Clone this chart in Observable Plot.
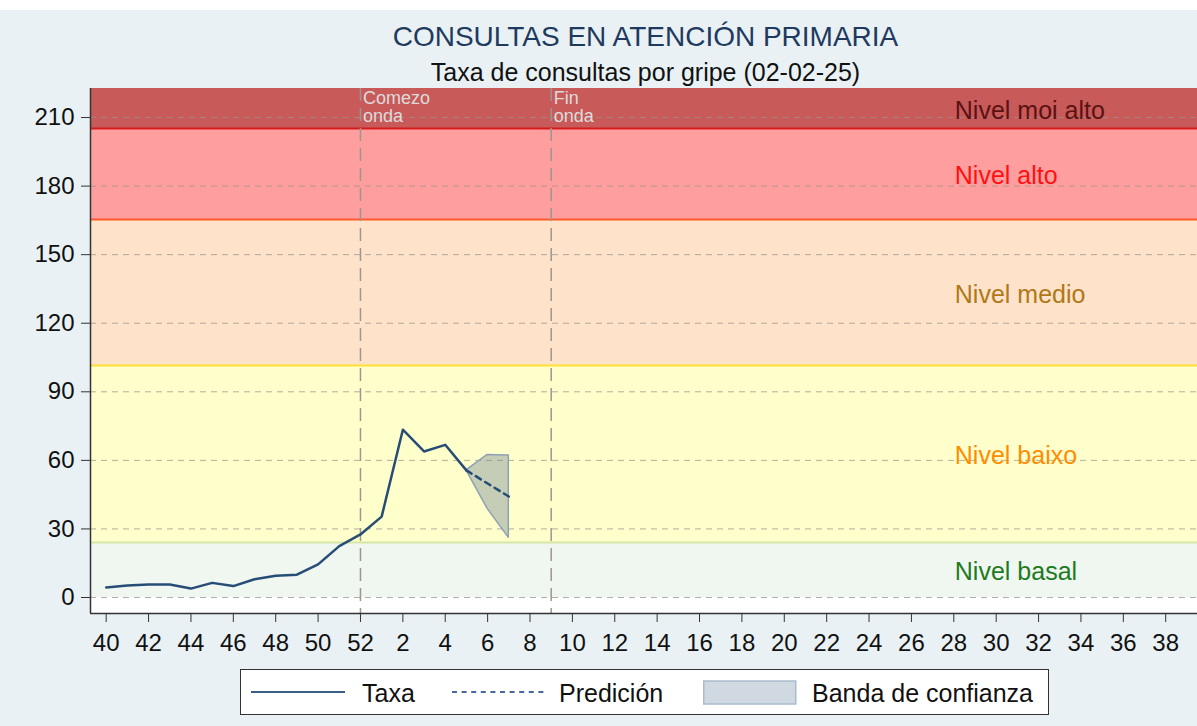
<!DOCTYPE html>
<html><head><meta charset="utf-8">
<script src="https://cdn.jsdelivr.net/npm/d3@7"></script>
<script src="https://cdn.jsdelivr.net/npm/@observablehq/plot@0.6"></script>
<style>
body{margin:0;background:#fff;font-family:"Liberation Sans",Arial,sans-serif;}
#wrap{position:relative;width:1197px;height:726px;background:#fff;overflow:hidden}
#bg{position:absolute;left:0;top:10px;width:1197px;height:716px;background:#e9f1f4}
#title{position:absolute;left:92px;width:1107px;top:21px;text-align:center;font-size:28px;color:#1e3a5f;line-height:32px;white-space:nowrap}
#subtitle{position:absolute;left:92px;width:1107px;top:58px;text-align:center;font-size:25px;color:#111;line-height:28px;white-space:nowrap}
#chart{position:absolute;left:0;top:80px}
#legend{position:absolute;left:240px;top:669px;width:807px;height:44px;background:#fff;border:1.5px solid #333;font-size:25px;color:#111}
#legend .it{position:absolute;top:0;height:44px;line-height:46px;white-space:nowrap}
#legend svg{position:absolute;top:0}
</style></head>
<body>
<div id="wrap">
  <div id="bg"></div>
  <div id="title">CONSULTAS EN ATENCIÓN PRIMARIA</div>
  <div id="subtitle">Taxa de consultas por gripe (02-02-25)</div>
  <div id="chart"></div>
  <div id="legend"></div>
</div>
<script>
// ---- data ----
const weekLabels = ["40","41","42","43","44","45","46","47","48","49","50","51","52",
  "1","2","3","4","5","6","7","8","9","10","11","12","13","14","15","16","17","18","19",
  "20","21","22","23","24","25","26","27","28","29","30","31","32","33","34","35","36","37","38","39"];
const xTickLabels = ["40","42","44","46","48","50","52","2","4","6","8","10","12","14","16","18",
  "20","22","24","26","28","30","32","34","36","38"];
const yTicks = [0, 30, 60, 90, 120, 150, 180, 210];

const taxaWeeks  = ["40","41","42","43","44","45","46","47","48","49","50","51","52","1","2","3","4","5"];
const taxaValues = [4.4, 5.2, 5.7, 5.7, 3.9, 6.4, 5.0, 8.0, 9.5, 10.0, 14.5, 22.5, 27.6, 35.4, 73.4, 63.9, 66.8, 55.6];

const predWeeks  = ["5","6","7"];
const predValues = [55.6, 49.9, 44.2];
const bandLow    = [55.6, 38.8, 26.1];
const bandHigh   = [55.6, 62.4, 62.1];

const levelNames = ["Nivel basal", "Nivel baixo", "Nivel medio", "Nivel alto", "Nivel moi alto"];
const levelLower = [0, 24.1, 101.5, 165.4, 205.2];

const waveWeeks  = ["52", "9"];
const waveTexts  = ["Comezo\nonda", "Fin\nonda"];
const levelLabelWeek = "28";

const legendLabels = ["Taxa", "Predición", "Banda de confianza"];

// ---- styles ----
const levelFills = ["#f0f6f0", "#ffffcc", "#fee3ca", "#ff9e9e", "#c85a5a"];
const levelLines = ["none", "#d6e6a6", "#ffe033", "#ff5a28", "#d41c1c"];
const levelText  = ["#1e7a1e", "#ff8c00", "#b07818", "#ff1010", "#5a1212"];

const idx = w => weekLabels.indexOf(w);
const xDomain = [-0.74, 51.5];
const yDomain = [-7, 222.7];

const bands = levelNames.map((name, i) => ({
  name, lo: levelLower[i], hi: i < levelLower.length - 1 ? levelLower[i + 1] : yDomain[1],
  fill: levelFills[i], line: levelLines[i], text: levelText[i]
}));
const taxa = taxaWeeks.map((w, i) => ({x: idx(w), y: taxaValues[i]}));
const pred = predWeeks.map((w, i) => ({x: idx(w), y: predValues[i], lo: bandLow[i], hi: bandHigh[i]}));
const waves = waveWeeks.map((w, i) => ({x: idx(w), text: waveTexts[i]}));

const chart = Plot.plot({
  width: 1197, height: 580,
  marginTop: 8, marginBottom: 47, marginLeft: 90, marginRight: 0,
  x: {domain: xDomain, label: null},
  y: {domain: yDomain, label: null},
  color: {type: "identity"},
  style: {background: "transparent", fontFamily: "'Liberation Sans', Arial, sans-serif", fontSize: "24px", color: "#111", overflow: "visible"},
  marks: [
    Plot.frame({fill: "white", stroke: null}),
    Plot.rect(bands, {y1: "lo", y2: "hi", fill: "fill"}),
    Plot.ruleY(bands.slice(1), {y: "lo", stroke: "line", strokeWidth: 2}),
    Plot.ruleY(yTicks, {stroke: "#9a928a", strokeOpacity: 0.75, strokeDasharray: "6,5"}),
    Plot.ruleX(waves, {x: "x", stroke: "#9c968e", strokeWidth: 1.5, strokeDasharray: "13,7"}),
    Plot.text(waves, {x: "x", y: yDomain[1], text: "text", lineAnchor: "top", textAnchor: "start", dx: 2.5, dy: 3, fill: "#dcdcdc", fontSize: 18, lineHeight: 1}),
    Plot.areaY(pred, {x: "x", y1: "lo", y2: "hi", fill: "#6e8296", fillOpacity: 0.4, stroke: "#8fa2b2", strokeWidth: 1.5, curve: "linear"}),
    Plot.line(taxa, {x: "x", y: "y", stroke: "#274d76", strokeWidth: 2.5}),
    Plot.line(pred, {x: "x", y: "y", stroke: "#274d76", strokeWidth: 2.5, strokeDasharray: "6,5"}),
    Plot.text(bands, {x: idx(levelLabelWeek), y: d => (d.lo + d.hi) / 2, text: "name", fill: "text", textAnchor: "start", dx: 1, dy: 2.5, fontSize: 25}),
    Plot.axisY({ticks: yTicks, tickSize: 9, tickPadding: 7, stroke: "#333", label: null}),
    Plot.axisX({ticks: xTickLabels.map(idx), tickFormat: i => weekLabels[i], tickSize: 9, tickPadding: 11, stroke: "#333", label: null}),
    Plot.ruleX([xDomain[0]], {stroke: "#333", strokeWidth: 1.5}),
    Plot.ruleY([yDomain[0]], {stroke: "#333", strokeWidth: 1.5})
  ]
});
document.getElementById("chart").appendChild(chart);

// ---- legend ----
const lg = document.getElementById("legend");
lg.innerHTML = `
<svg width="100" height="44" style="left:10px"><line x1="0" x2="94" y1="22" y2="22" stroke="#3a5f88" stroke-width="2.2"/></svg>
<div class="it" style="left:121px">${legendLabels[0]}</div>
<svg width="100" height="44" style="left:211px"><line x1="0" x2="92" y1="22" y2="22" stroke="#46699a" stroke-width="2" stroke-dasharray="5,4.6"/></svg>
<div class="it" style="left:318px">${legendLabels[1]}</div>
<svg width="100" height="44" style="left:462px"><rect x="0.75" y="11" width="92" height="23" fill="#d0d9e2" stroke="#a8bccc" stroke-width="1.5"/></svg>
<div class="it" style="left:571px">${legendLabels[2]}</div>`;
</script>
</body></html>
